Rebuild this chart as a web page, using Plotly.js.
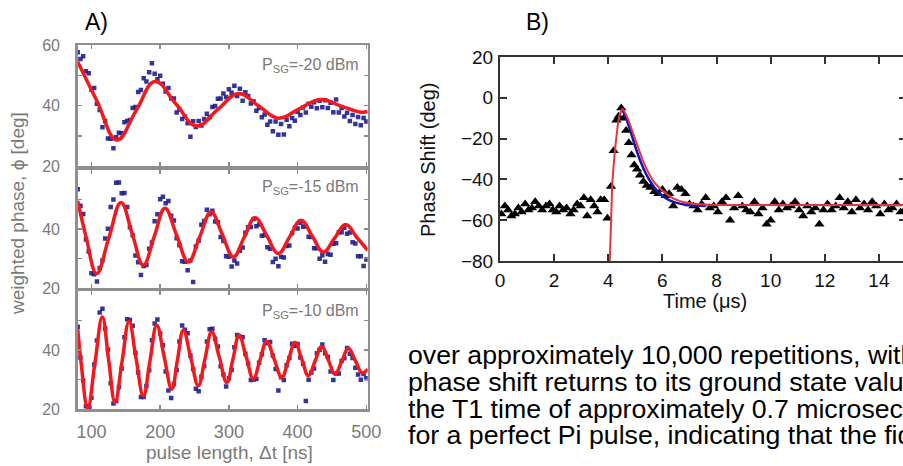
<!DOCTYPE html>
<html>
<head>
<meta charset="utf-8">
<script src="https://cdn.plot.ly/plotly-3.0.1.min.js"></script>
<style>
html,body{margin:0;padding:0;overflow:hidden;background:#fff;}
#chart{width:910px;height:466px;}
</style>
</head>
<body>
<div id="chart"></div>
<script>
// ---------- Panel A data (pulse length in ns, weighted phase in deg) ----------
const pulseLength = [80,84,88,92,96,100,104,108,112,116,120,124,128,132,136,140,144,148,152,156,160,164,168,172,176,180,184,188,192,196,200,204,208,212,216,220,224,228,232,236,240,244,248,252,256,260,264,268,272,276,280,284,288,292,296,300,304,308,312,316,320,324,328,332,336,340,344,348,352,356,360,364,368,372,376,380,384,388,392,396,400,404,408,412,416,420,424,428,432,436,440,444,448,452,456,460,464,468,472,476,480,484,488,492,496,500];

const phaseM20 = [57.6,55.4,56.3,51.3,50.7,45.2,45.8,40.6,38.5,32.8,34.9,29.1,29.0,25.9,
  29.5,31.0,30.8,34.5,34.9,35.2,39.2,39.5,44.5,45.1,49.0,47.9,51.0,54.0,
  50.5,48.7,49.8,47.2,44.6,45.8,42.3,42.3,37.7,38.7,35.5,36.4,34.1,29.7,34.8,
  32.9,34.9,33.4,35.5,37.3,36.1,39.5,39.8,42.2,42.3,44.0,42.8,45.4,44.2,46.5,
  43.1,45.5,41.6,44.4,43.1,40.7,41.3,38.3,39.2,36.1,37.0,33.6,34.7,31.5,34.7,30.3,
  33.9,30.4,35.3,33.1,35.9,35.0,37.9,36.9,39.3,37.7,40.6,39.6,41.1,39.1,41.6,
  39.4,41.7,39.2,40.9,37.8,42.0,37.7,39.2,36.4,37.6,34.9,36.9,33.9,36.2,33.5,35.9,34.7];

const phaseM15 = [53.5,47.9,45.1,36.4,32.4,25.0,24.7,
  22.2,26.8,29.3,36.8,40.1,47.5,50.0,55.7,
  55.8,52.1,52.2,47.5,40.6,37.9,31.0,28.7,24.4,
  27.5,27.8,33.3,35.4,42.6,45.0,50.1,50.9,
  48.7,49.5,44.5,42.9,36.9,34.5,29.1,28.9,26.0,
  29.3,22.0,34.1,36.0,41.4,42.7,46.5,45.0,
  46.2,42.5,42.3,37.3,35.9,30.8,30.6,27.3,
  29.3,28.3,32.6,33.7,38.7,40.6,40.7,43.4,
  40.9,41.5,37.7,37.9,33.8,33.3,28.8,29.9,27.4,
  30.6,30.3,34.2,34.4,38.6,40.4,40.2,42.1,
  40.8,41.0,37.4,37.3,33.5,33.5,29.9,31.1,28.9,
  31.5,31.3,35.0,35.2,38.9,38.9,40.4,
  38.4,38.8,35.5,35.1,30.8,30.8,27.5,29.7];

const phaseM10 = [47.9,37.5,29.7,20.9,
  20.5,23.8,35.1,43.2,52.7,
  54.0,47.3,40.2,28.7,21.9,
  22.7,27.5,33.7,44.3,50.4,
  50.2,48.2,39.1,32.4,24.1,
  24.1,27.8,33.1,43.3,49.0,
  50.3,45.6,41.6,32.7,26.3,23.7,
  28.5,33.2,42.9,48.3,
  46.9,45.7,38.1,33.6,26.9,
  26.0,30.9,34.6,42.9,47.0,
  47.2,43.8,41.2,34.5,31.7,27.6,
  30.4,33.2,40.9,45.1,
  44.6,44.3,38.7,35.4,29.8,30.0,
  30.2,35.7,38.6,43.3,
  42.3,42.7,38.1,33.6,26.3,30.8,
  29.8,34.8,37.3,42.1,41.4,
  42.0,37.5,35.3,22.7,29.9,
  32.4,33.7,38.9,40.1,
  41.9,38.9,37.7,32.7,29.8,
  32.0,32.0,36.3,37.2,40.7,
  38.7,37.3,34.0,31.7,29.9,31.9,30.4];

// fitted curves (extrema and midpoints)
const fitM20X = [80,108,137,165,192.5,223,253,283.5,314,343,372,402.5,433,462.5,492,502];
const fitM20Y = [54.5,41.5,28.6,38.3,47.9,40.5,33.2,38.6,44.0,39.9,35.8,38.9,42.0,39.9,37.8,38.0];

const fitM15X = [80,92,107.6,125.3,143,159.3,175.5,191.3,207,224,241,257.5,274,290.3,306.5,322.3,338,355,372,388.5,405,421.3,437.5,453.8,470,486,502];
const fitM15Y = [49.5,37.5,24.9,37.0,49.0,38.4,27.7,37.4,47.0,37.9,28.8,37.3,45.8,38.2,30.5,37.2,43.8,37.8,31.7,37.4,43.0,37.6,32.2,36.9,41.5,37.2,32.8];

const fitM10X = [80,84.8,94.6,105.2,115.8,125,134.3,144.5,154.7,165,175.5,185.2,195,206,216.8,225.2,233.7,244.6,255.5,265.2,275,286,297,306,314.8,325.2,335.6,345.3,355,366,377,386.6,396.3,406,415.7,425.3,435,444.8,454.5,464.2,474,484,494,502];
const fitM10Y = [47.2,36.0,20.4,35.8,51.2,36.7,22.2,36.0,49.7,37.0,24.4,36.4,48.4,37.5,26.7,36.7,46.7,37.3,27.9,37.0,46.2,37.6,29.0,37.0,45.0,37.6,30.2,36.6,42.9,36.8,30.7,36.6,42.5,36.9,31.3,36.2,41.2,36.5,31.8,36.2,40.6,36.4,32.2,33.5];

const powerLabels = ["P<sub>SG</sub>=-20 dBm","P<sub>SG</sub>=-15 dBm","P<sub>SG</sub>=-10 dBm"];
const xTicksA = [100,200,300,400,500];

// ---------- Panel B data (time in µs, phase shift in deg) ----------
const timeUs = [0.05,0.18,0.3,0.42,0.55,0.68,0.8,0.93,1.05,1.18,1.3,1.43,1.56,1.7,1.83,1.95,2.08,2.2,2.33,2.46,2.6,2.72,2.85,2.98,3.1,3.22,3.35,3.48,3.6,3.72,3.85,3.97,
  4.1,4.2,4.3,4.38,4.48,4.57,4.66,4.76,4.86,4.96,5.06,5.17,5.3,5.42,5.56,5.7,5.85,6.0,6.12,6.25,6.4,6.55,6.7,6.85,7.0,
  7.15,7.3,7.45,7.6,7.75,7.9,8.05,8.2,8.35,8.5,8.65,8.8,8.95,9.1,9.25,9.4,9.55,9.7,9.85,10.0,10.15,10.3,10.45,10.6,10.75,10.9,11.05,11.2,11.35,11.5,11.65,11.8,11.95,12.1,12.25,12.4,12.55,12.7,12.85,13.0,13.15,13.3,13.45,13.6,13.75,13.9,14.05,14.2,14.35,14.5,14.65,14.8,14.95];
const phaseShift = [-57,-53,-55,-58,-57,-54,-56,-52,-55,-54,-51,-53,-55,-53,-52,-55,-56,-53,-55,-54,-57,-55,-52,-53,-49,-58,-50,-53,-56,-50,-50,-59,
  -43.5,-26,-11,-9,-5,-10,-16,-22,-28,-33,-35,-38,-41,-43,-44,-46,-47,-45,-48,-47,-53,-44,-45,-47,-52,
  -53,-55,-52,-49,-54,-53,-56,-51,-49,-60,-54,-48,-53,-55,-56,-51,-57,-54,-62,-60,-51,-55,-52,-54,-53,-51,-55,-58,-53,-56,-54,-62,-55,-52,-55,-53,-49,-54,-51,-56,-50,-54,-52,-55,-51,-53,-57,-52,-55,-54,-52,-56,-55];

const fitRedT = [4.05,4.1,4.15,4.25,4.4,4.53,4.7,5.0,5.35,5.7,6.0,6.4,6.8,7.2,8,10,12,15];
const fitRedY = [-82,-62,-42,-25.5,-9.5,-5.5,-9.5,-20.5,-33,-41.5,-45.5,-49.3,-51.2,-52,-52.5,-52.5,-52.5,-52.5];
const fitBlueT = [4.5,4.6,4.8,5.0,5.2,5.4,5.6,5.9,6.2,6.5,6.8,7.2,7.6];
const fitBlueY = [-5.5,-8,-15.5,-24,-31.5,-37.5,-42,-47,-49.8,-51.4,-52.3,-52.8,-53];
const xTicksB = [0,2,4,6,8,10,12,14];
const yTicksB = [20,0,-20,-40,-60,-80];

const paragraph = [
  "over approximately 10,000 repetitions, with",
  "phase shift returns to its ground state value",
  "the T1 time of approximately 0.7 microseconds",
  "for a perfect Pi pulse, indicating that the fidelity"
];

// ---------- layout helpers (pixel -> paper) ----------
const W = 910, H = 466;
const fx = p => p / W;
const fy = p => 1 - p / H;
const FONT = "Liberation Sans, Arial, Helvetica, sans-serif";
const GREY = "#7a7a7a";

const dotStyle = {symbol: "square", size: 4.5, color: "#1f1f8c", opacity: 0.9};
const redA = {color: "#f2181c", width: 3.5, shape: "spline", smoothing: 1.2};

const traces = [
  {x: pulseLength, y: phaseM10, xaxis: "x", yaxis: "y", mode: "markers", marker: dotStyle, type: "scatter"},
  {x: fitM10X, y: fitM10Y, xaxis: "x", yaxis: "y", mode: "lines", line: redA, type: "scatter"},
  {x: pulseLength, y: phaseM15, xaxis: "x2", yaxis: "y2", mode: "markers", marker: dotStyle, type: "scatter"},
  {x: fitM15X, y: fitM15Y, xaxis: "x2", yaxis: "y2", mode: "lines", line: redA, type: "scatter"},
  {x: pulseLength, y: phaseM20, xaxis: "x3", yaxis: "y3", mode: "markers", marker: dotStyle, type: "scatter"},
  {x: fitM20X, y: fitM20Y, xaxis: "x3", yaxis: "y3", mode: "lines", line: redA, type: "scatter"},
  {x: timeUs, y: phaseShift, xaxis: "x4", yaxis: "y4", mode: "markers",
   marker: {symbol: "triangle-up", size: 9, color: "#000"}, type: "scatter"},
  {x: fitBlueT, y: fitBlueY, xaxis: "x4", yaxis: "y4", mode: "lines",
   line: {color: "#1414b4", width: 2.5, shape: "spline"}, type: "scatter"},
  {x: fitRedT, y: fitRedY, xaxis: "x4", yaxis: "y4", mode: "lines",
   line: {color: "#e8353d", width: 2, shape: "spline", smoothing: 0.6}, type: "scatter"}
];

const xA = (anchor, labels) => ({
  domain: [fx(77.7), fx(367.7)], range: [80, 502], anchor: anchor,
  tickvals: xTicksA, ticks: "inside", ticklen: 4, tickcolor: "#8a8a8a", tickwidth: 1.5,
  showline: true, linecolor: "#8f8f8f", linewidth: 2.5, mirror: "ticks",
  showgrid: false, zeroline: false, showticklabels: labels,
  ticklabelstandoff: 5, tickfont: {family: FONT, size: 18, color: GREY}
});
const yA = (anchor, dom, major, minor) => ({
  domain: dom, range: [20, 60], anchor: anchor,
  tickvals: major, ticks: "inside", ticklen: 4, tickcolor: "#8a8a8a", tickwidth: 1.5,
  minor: {tickvals: minor, ticks: "inside", ticklen: 4, tickcolor: "#8a8a8a", tickwidth: 1.5, showgrid: false},
  showline: true, linecolor: "#8f8f8f", linewidth: 2.5, mirror: "ticks",
  showgrid: false, zeroline: false, ticklabelstandoff: 12,
  tickfont: {family: FONT, size: 16, color: GREY}
});

const ann = (text, px, py, font, extra) => Object.assign({
  text: text, x: fx(px), y: fy(py), xref: "paper", yref: "paper",
  xanchor: "center", yanchor: "middle", showarrow: false, font: font
}, extra || {});

const fA = {family: FONT, size: 23, color: "#000"};
const fGreyTitle = {family: FONT, size: 19, color: GREY};
const fPow = {family: FONT, size: 16, color: GREY};
const fBTitle = {family: FONT, size: 20, color: "#111"};
const fPara = {family: FONT, size: 26.7, color: "#000"};

const layout = {
  width: W, height: H,
  margin: {l: 0, r: 0, t: 0, b: 0},
  paper_bgcolor: "#fff", plot_bgcolor: "#fff",
  showlegend: false,
  font: {family: FONT},
  xaxis: xA("y", true),
  xaxis2: xA("y2", false),
  xaxis3: xA("y3", false),
  yaxis: yA("x", [fy(409), fy(291)], [20, 40], [30, 50, 60]),
  yaxis2: yA("x2", [fy(288), fy(170)], [20, 40], [30, 50, 60]),
  yaxis3: yA("x3", [fy(166), fy(45)], [20, 40, 60], [30, 50]),
  xaxis4: {
    domain: [fx(500), fx(906)], range: [0, 15], anchor: "y4",
    tickvals: xTicksB, ticks: "inside", ticklen: 7, tickwidth: 2, tickcolor: "#333",
    showline: true, linecolor: "#333", linewidth: 2, mirror: "ticks",
    showgrid: false, zeroline: false, ticklabelstandoff: 1,
    tickfont: {family: FONT, size: 19, color: "#111"}
  },
  yaxis4: {
    domain: [fy(261), fy(57)], range: [-80, 20], anchor: "x4",
    tickvals: yTicksB, ticks: "inside", ticklen: 7, tickwidth: 2, tickcolor: "#333",
    showline: true, linecolor: "#333", linewidth: 2, mirror: "ticks",
    showgrid: false, zeroline: false, ticklabelstandoff: 1,
    tickfont: {family: FONT, size: 19, color: "#111"}
  },
  annotations: [
    ann("A)", 96, 22, fA),
    ann("B)", 537, 22, fA),
    ann(powerLabels[0], 361, 66, fPow, {xanchor: "right"}),
    ann(powerLabels[1], 361, 188, fPow, {xanchor: "right"}),
    ann(powerLabels[2], 361, 311, fPow, {xanchor: "right"}),
    ann("weighted phase, ϕ [deg]", 18, 214, fGreyTitle, {textangle: -90}),
    ann("pulse length, Δt [ns]", 229, 452, fGreyTitle),
    ann("Phase Shift (deg)", 428, 160, fBTitle, {textangle: -90}),
    ann("Time (μs)", 705, 301, fBTitle),
    ann(paragraph[0], 406, 355, fPara, {xanchor: "left"}),
    ann(paragraph[1], 406, 382, fPara, {xanchor: "left"}),
    ann(paragraph[2], 406, 408.5, fPara, {xanchor: "left"}),
    ann(paragraph[3], 406, 435, fPara, {xanchor: "left"})
  ]
};

Plotly.newPlot("chart", traces, layout, {staticPlot: true, displayModeBar: false});
</script>
</body>
</html>
